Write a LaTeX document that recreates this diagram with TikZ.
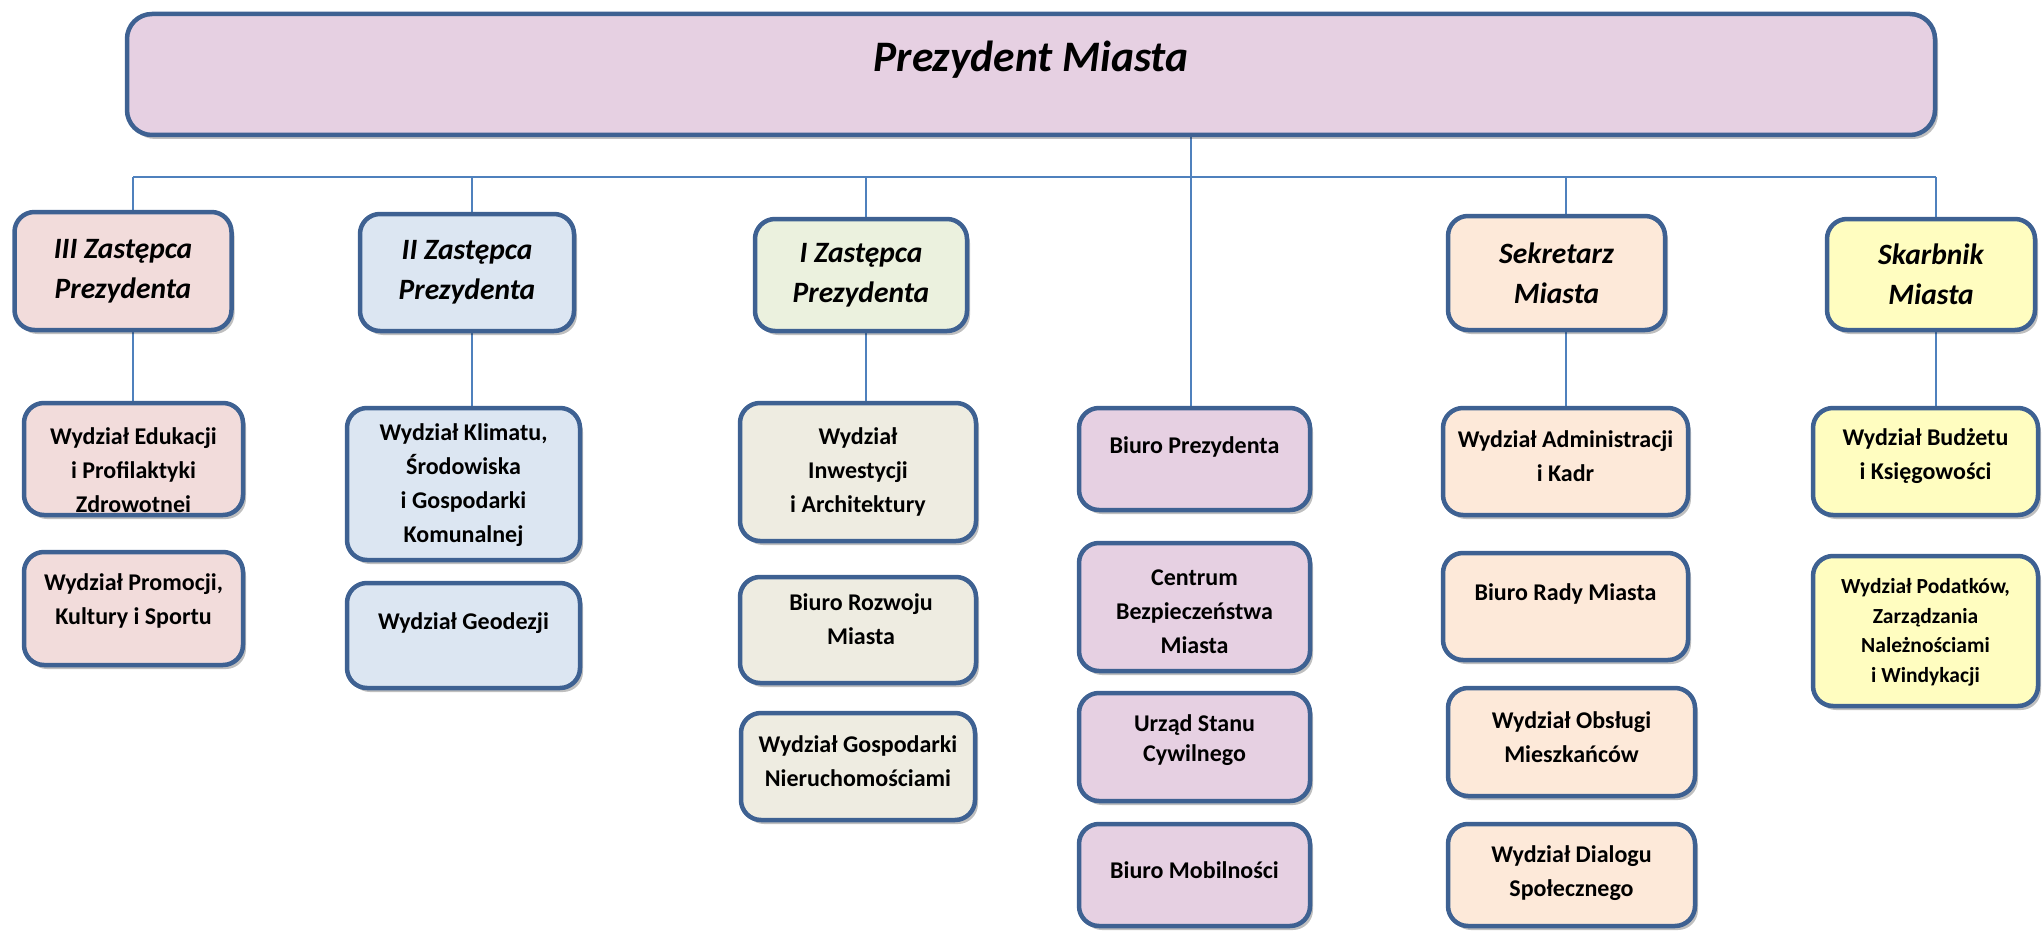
\documentclass[tikz,border=0pt]{standalone}
\usepackage{fontspec}
\setmainfont{Carlito}
\usetikzlibrary{shadows,backgrounds}
\definecolor{bd}{HTML}{3E6192}
\definecolor{ln}{HTML}{4F81BD}
\definecolor{lil}{HTML}{E6D0E2}
\definecolor{pnk}{HTML}{F2DCDB}
\definecolor{blu}{HTML}{DCE6F2}
\definecolor{grn}{HTML}{EBF1DE}
\definecolor{bge}{HTML}{EEECE1}
\definecolor{pch}{HTML}{FDE9D9}
\definecolor{yel}{HTML}{FFFDC0}
\begin{document}
\begin{tikzpicture}[x=1pt,y=-1pt,
  ubox/.style={draw=bd, line width=4.5pt, rounded corners=20pt, inner sep=0pt,
    drop shadow={shadow xshift=3pt, shadow yshift=-4pt, opacity=0.25, fill=black}},
  wire/.style={draw=ln, line width=1.8pt},
  hdr/.style={font=\fontsize{29.5}{40}\selectfont\bfseries\itshape, align=center},
  sub/.style={font=\fontsize{24}{34}\selectfont\bfseries, align=center},
  small/.style={font=\fontsize{21.5}{29.5}\selectfont\bfseries, align=center}]
\useasboundingbox (0,0) rectangle (2043,931);

% top
\node[ubox, fill=lil, rounded corners=25pt, minimum width=1808pt, minimum height=121pt] (top) at (1031,74.5) {};
\node[font=\fontsize{43.5}{52}\selectfont\bfseries\itshape] (top-t) at (1031,60) {Prezydent Miasta};

% headers
\node[ubox, hdr, fill=pnk, minimum width=217pt, minimum height=118pt] (h3) at (123,271) {III Zastępca\\Prezydenta};
\node[ubox, hdr, fill=blu, minimum width=214pt, minimum height=117pt] (h2) at (467,272.5) {II Zastępca\\Prezydenta};
\node[ubox, hdr, fill=grn, minimum width=212pt, minimum height=112pt] (h1) at (861,275) {I Zastępca\\Prezydenta};
\node[ubox, hdr, fill=pch, minimum width=217pt, minimum height=114pt] (hs) at (1556.5,273) {Sekretarz\\Miasta};
\node[ubox, hdr, fill=yel, minimum width=208pt, minimum height=111pt] (hk) at (1931,274.5) {Skarbnik\\Miasta};

% column III
\node[ubox, fill=pnk, minimum width=219pt, minimum height=112pt] (edu) at (133.5,459) {};
\node[sub] (edu-t) at (133.5,470) {Wydział Edukacji\\i Profilaktyki\\Zdrowotnei};
\node[ubox, fill=pnk, minimum width=219pt, minimum height=113pt] (pro) at (133.5,608.5) {};
\node[sub] (pro-t) at (133.5,601) {Wydział Promocji,\\Kultury i Sportu};

% column II
\node[ubox, fill=blu, minimum width=233pt, minimum height=152pt] (kli) at (463.5,484) {};
\node[sub] (kli-t) at (463.5,485.5) {Wydział Klimatu,\\Środowiska\\i Gospodarki\\Komunalnej};
\node[ubox, fill=blu, minimum width=233pt, minimum height=105pt] (geo) at (463.5,635.5) {};
\node[sub] (geo-t) at (463.5,623.5) {Wydział Geodezji};

% column I
\node[ubox, fill=bge, minimum width=236pt, minimum height=138pt] (inw) at (858,472) {};
\node[sub] (inw-t) at (858,472) {Wydział\\Inwestycji\\i Architektury};
\node[ubox, fill=bge, minimum width=236pt, minimum height=106pt] (brz) at (858,630) {};
\node[sub] (brz-t) at (861,619) {Biuro Rozwoju\\Miasta};
\node[ubox, fill=bge, minimum width=234pt, minimum height=107pt] (gn) at (858,766.5) {};
\node[sub] (gn-t) at (858,761) {Wydział Gospodarki\\Nieruchomościami};

% middle column
\node[ubox, fill=lil, minimum width=231pt, minimum height=102pt] (bp) at (1194.5,459) {};
\node[sub] (bp-t) at (1194.5,446.5) {Biuro Prezydenta};
\node[ubox, fill=lil, minimum width=231pt, minimum height=128pt] (cb) at (1194.5,607) {};
\node[sub] (cb-t) at (1194.5,611.5) {Centrum\\Bezpieczeństwa\\Miasta};
\node[ubox, fill=lil, minimum width=231pt, minimum height=108pt] (usc) at (1194.5,747) {};
\node[sub, font=\fontsize{24}{30}\selectfont\bfseries] (usc-t) at (1194.5,740) {Urząd Stanu\\Cywilnego};
\node[ubox, fill=lil, minimum width=231pt, minimum height=102pt] (bm) at (1194.5,875) {};
\node[sub] (bm-t) at (1194.5,870) {Biuro Mobilności};

% Sekretarz column
\node[ubox, fill=pch, minimum width=245pt, minimum height=107pt] (adm) at (1565.5,461.5) {};
\node[sub] (adm-t) at (1565.5,456.5) {Wydział Administracji\\i Kadr};
\node[ubox, fill=pch, minimum width=245pt, minimum height=107pt] (brm) at (1565.5,606.5) {};
\node[sub] (brm-t) at (1565.5,593.5) {Biuro Rady Miasta};
\node[ubox, fill=pch, minimum width=247pt, minimum height=108pt] (wom) at (1571.5,742) {};
\node[sub] (wom-t) at (1571.5,737) {Wydział Obsługi\\Mieszkańców};
\node[ubox, fill=pch, minimum width=247pt, minimum height=102pt] (wds) at (1571.5,875) {};
\node[sub] (wds-t) at (1571.5,873.5) {Wydział Dialogu\\Społecznego};

% Skarbnik column
\node[ubox, fill=yel, minimum width=225pt, minimum height=107pt] (bud) at (1925.5,461.5) {};
\node[sub] (bud-t) at (1925.5,456.5) {Wydział Budżetu\\i Księgowości};
\node[ubox, fill=yel, minimum width=225pt, minimum height=150pt] (pod) at (1925.5,631) {};
\node[small] (pod-t) at (1925.5,632.5) {Wydział Podatków,\\Zarządzania\\Należnościami\\i Windykacji};

% connectors
\coordinate (c3) at (133,177);
\coordinate (c2) at (472,177);
\coordinate (c1) at (866,177);
\coordinate (c0) at (1191,177);
\coordinate (cs) at (1566,177);
\coordinate (ck) at (1936,177);
\begin{pgfonlayer}{background}
\draw[wire] (c3) -- (ck);
\draw[wire] (c3) -- (c3 |- edu.north);
\draw[wire] (c2) -- (c2 |- kli.north);
\draw[wire] (c1) -- (c1 |- inw.north);
\draw[wire] (top.south -| c0) -- (c0 |- bp.north);
\draw[wire] (cs) -- (cs |- adm.north);
\draw[wire] (ck) -- (ck |- bud.north);
\end{pgfonlayer}
\end{tikzpicture}
\end{document}
